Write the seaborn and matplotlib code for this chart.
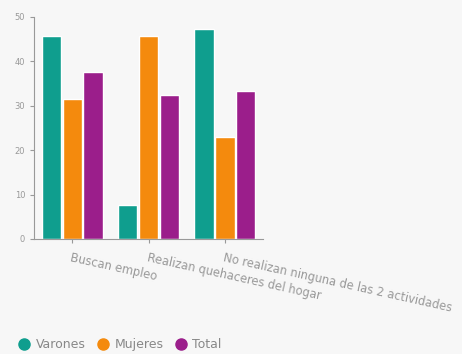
import matplotlib.pyplot as plt
import pandas as pd
import seaborn as sns

categories = [
    "Buscan empleo",
    "Realizan quehaceres del hogar",
    "No realizan ninguna de las 2 actividades",
]
series_names = ["Varones", "Mujeres", "Total"]
varones = [45.7, 7.6, 47.3]
mujeres = [31.5, 45.7, 23.0]
total = [37.6, 32.4, 33.3]
y_ticks = [0, 10, 20, 30, 40, 50]

colors = ["#0f9e8e", "#f48a0d", "#9b1e8b"]
bg = "#f7f7f7"
text_col = "#999999"


def main():
    rows = []
    for name, values in zip(series_names, [varones, mujeres, total]):
        for cat, v in zip(categories, values):
            rows.append({"categoria": cat, "serie": name, "valor": v})
    df = pd.DataFrame(rows)

    sns.set_style("ticks")
    plt.rcParams["font.family"] = ["DejaVu Sans"]

    fig = plt.figure(figsize=(4.62, 3.54), dpi=100, facecolor=bg)
    ax = fig.add_axes([0.074, 0.325, 0.495, 0.627])
    ax.set_facecolor(bg)

    sns.barplot(
        data=df,
        x="categoria",
        y="valor",
        hue="serie",
        order=categories,
        hue_order=series_names,
        palette=colors,
        width=0.82,
        gap=0.06,
        saturation=1,
        ax=ax,
    )
    ax.set_xlim(-0.5, 2.5)
    ax.set_ylim(0, 50)
    ax.set_yticks(y_ticks)
    ax.set_xlabel("")
    ax.set_ylabel("")
    ax.set_xticks(range(len(categories)))
    ax.set_xticklabels(
        categories, rotation=-12.5, ha="left", va="top", rotation_mode="anchor"
    )
    ax.tick_params(axis="y", labelsize=6)
    ax.tick_params(axis="x", labelsize=8.3, pad=6)
    ax.tick_params(axis="both", colors="#999999", labelcolor=text_col,
                   length=3, width=0.8)
    sns.despine(ax=ax)
    for side in ["left", "bottom"]:
        ax.spines[side].set_color("#999999")
        ax.spines[side].set_linewidth(0.8)

    ax.legend_.remove()
    handles = [
        plt.Line2D([], [], marker="o", linestyle="", markersize=8,
                   markerfacecolor=c, markeredgecolor=c)
        for c in colors
    ]
    fig.legend(
        handles, series_names, loc="lower left", bbox_to_anchor=(0.015, -0.024),
        ncol=3, frameon=False, fontsize=9, labelcolor="#888888",
        handletextpad=0.4, columnspacing=0.9, handlelength=1.0,
    )

    fig.savefig("out.png", dpi=100, facecolor=bg)


if __name__ == "__main__":
    main()
